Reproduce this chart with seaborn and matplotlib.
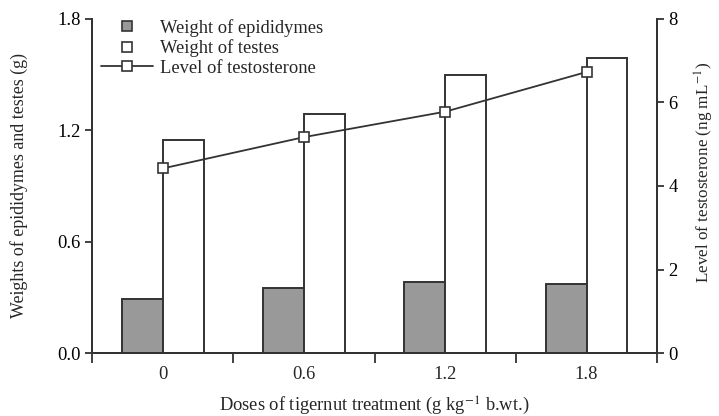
import pandas as pd
import numpy as np
import seaborn as sns
import matplotlib.pyplot as plt
from matplotlib.lines import Line2D

doses = ["0", "0.6", "1.2", "1.8"]
epididymes = [0.29, 0.35, 0.38, 0.37]
testes = [1.15, 1.29, 1.50, 1.59]
testosterone = [4.42, 5.17, 5.78, 6.73]

sns.set_style("ticks")
plt.rcParams['font.family'] = ['Liberation Serif', 'DejaVu Serif']
plt.rcParams['mathtext.fontset'] = 'stix'

dark = '#333333'
fs = 13.3

bars = pd.DataFrame({
    'dose': doses * 2,
    'weight': epididymes + testes,
    'organ': ['Weight of epididymes'] * 4 + ['Weight of testes'] * 4,
})
level = pd.DataFrame({'dose': doses, 'level': testosterone})

fig = plt.figure(figsize=(7.19, 4.16), dpi=100)
ax = fig.add_axes([0.128, 0.1514, 0.786, 0.803])

sns.barplot(data=bars, x='dose', y='weight', hue='organ', order=doses,
            palette=['#999999', 'white'], width=0.58, edgecolor=dark,
            linewidth=1.4, ax=ax, legend=False)

ax2 = ax.twinx()
sns.pointplot(data=level, x='dose', y='level', order=doses, color=dark,
              markers='s', linestyles='-', ax=ax2,
              markersize=7, linewidth=1.3, markerfacecolor='white',
              markeredgecolor=dark, markeredgewidth=1.2)

for a in (ax, ax2):
    a.set_xlim(-0.5, 3.5)
    for s in a.spines.values():
        s.set_color(dark)
        s.set_linewidth(1.4)
    a.spines['top'].set_visible(False)
    a.tick_params(colors=dark, labelcolor='black', width=1.3, length=5,
                  labelsize=fs, pad=3)

ax.set_ylim(0, 1.8)
ax.set_yticks([0.0, 0.6, 1.2, 1.8], labels=['0.0', '0.6', '1.2', '1.8'])
ax2.set_ylim(0, 8)
ax2.set_yticks([0, 2, 4, 6, 8])

ax.set_xticks([-0.5, 0.5, 1.5, 2.5, 3.5], labels=[''] * 5)
ax.set_xticks([0, 1, 2, 3], labels=doses, minor=True)
ax.tick_params(axis='x', which='minor', length=0, pad=9, labelsize=fs)
ax.tick_params(axis='x', which='major', length=7)

ax.set_xlabel('Doses of tigernut treatment (g kg$^{-1}$ b.wt.)', fontsize=fs,
              labelpad=9)
ax.set_ylabel('Weights of epididymes and testes (g)', fontsize=12.9,
              labelpad=21)
ax2.set_ylabel('Level of testosterone (ng mL$^{-1}$)', fontsize=12.3,
               labelpad=11)
ax2.yaxis.label.set_y(0.54)

handles = [
    Line2D([], [], ls='none', marker='s', markersize=7, markerfacecolor='#999999',
           markeredgecolor=dark, markeredgewidth=1.2),
    Line2D([], [], ls='none', marker='s', markersize=7, markerfacecolor='white',
           markeredgecolor=dark, markeredgewidth=1.2),
    Line2D([], [], color=dark, lw=1.3, marker='s', markersize=7,
           markerfacecolor='white', markeredgecolor=dark, markeredgewidth=1.2),
]
ax.legend(handles, ['Weight of epididymes', 'Weight of testes',
                    'Level of testosterone'],
          loc='upper left', bbox_to_anchor=(0.016, 1.0), frameon=False,
          fontsize=fs, handlelength=2.8, handletextpad=0.38,
          labelspacing=0.13, borderaxespad=0, borderpad=0)

fig.savefig('out.png', dpi=100)
